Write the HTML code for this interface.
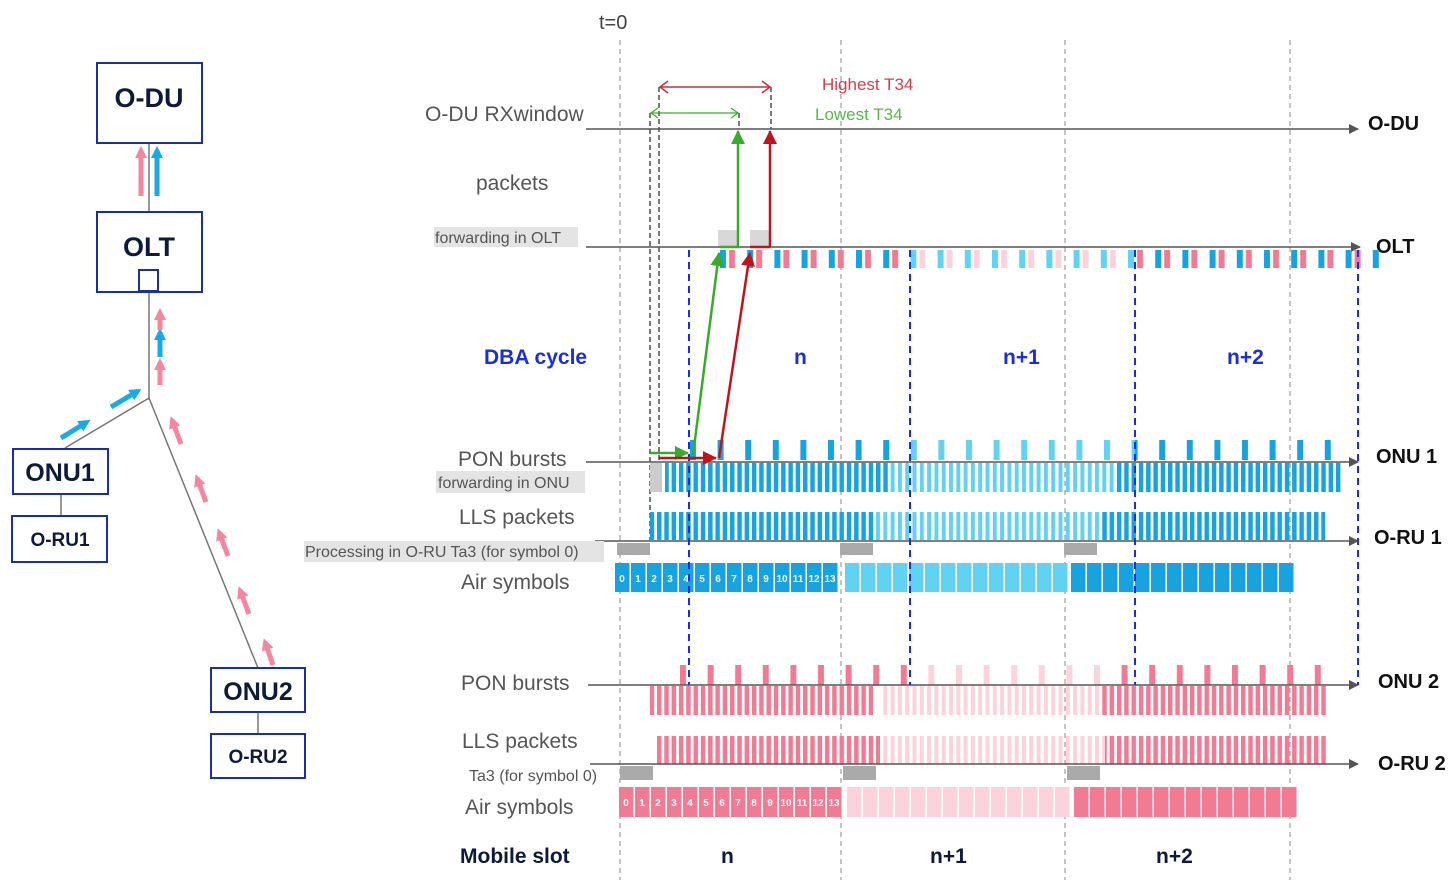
<!DOCTYPE html>
<html><head><meta charset="utf-8"><style>
body{margin:0;background:#fff}
svg{display:block}
text{font-family:"Liberation Sans",sans-serif}
.lbl{font-size:21px;fill:#555}
.sm{font-size:16px;fill:#555}
.ax{font-size:20px;font-weight:bold;fill:#111}
.bx{font-weight:bold;fill:#0d1a3a}
</style></head><body>
<svg width="1456" height="887" viewBox="0 0 1456 887" xmlns="http://www.w3.org/2000/svg">
<defs>
<pattern id="sD" x="0" y="0" width="7.3" height="10" patternUnits="userSpaceOnUse"><rect width="4.5" height="10" fill="#17a2e0"/></pattern>
<pattern id="sL" x="0" y="0" width="7.3" height="10" patternUnits="userSpaceOnUse"><rect width="4" height="10" fill="#62d2f3"/></pattern>
<pattern id="pD" x="0" y="0" width="7.3" height="10" patternUnits="userSpaceOnUse"><rect width="4.5" height="10" fill="#f07b95"/></pattern>
<pattern id="pL" x="0" y="0" width="7.3" height="10" patternUnits="userSpaceOnUse"><rect width="4" height="10" fill="#fcd3dc"/></pattern>
<pattern id="tB" x="690" y="0" width="27.6" height="10" patternUnits="userSpaceOnUse"><rect width="6" height="10" fill="#17a2e0"/></pattern>
<pattern id="tBL" x="690" y="0" width="27.6" height="10" patternUnits="userSpaceOnUse"><rect width="6" height="10" fill="#62d2f3"/></pattern>
<pattern id="tP" x="680" y="0" width="27.6" height="10" patternUnits="userSpaceOnUse"><rect width="6" height="10" fill="#f07b95"/></pattern>
<pattern id="tPL" x="680" y="0" width="27.6" height="10" patternUnits="userSpaceOnUse"><rect width="6" height="10" fill="#fcd3dc"/></pattern>
<pattern id="oD" x="720" y="0" width="27.2" height="10" patternUnits="userSpaceOnUse"><rect width="6" height="10" fill="#17a2e0"/><rect x="9" width="6" height="10" fill="#f07b95"/></pattern>
<pattern id="oL" x="720" y="0" width="27.2" height="10" patternUnits="userSpaceOnUse"><rect width="6" height="10" fill="#62d2f3"/><rect x="9" width="6" height="10" fill="#fcd3dc"/></pattern>
<pattern id="yB" x="615" y="0" width="16" height="10" patternUnits="userSpaceOnUse"><rect width="14.5" height="10" fill="#17a2e0"/></pattern>
<pattern id="yBL" x="845" y="0" width="16" height="10" patternUnits="userSpaceOnUse"><rect width="14.5" height="10" fill="#62d2f3"/></pattern>
<pattern id="yB2" x="1071" y="0" width="16" height="10" patternUnits="userSpaceOnUse"><rect width="14.5" height="10" fill="#17a2e0"/></pattern>
<pattern id="yP" x="619" y="0" width="16" height="10" patternUnits="userSpaceOnUse"><rect width="14.5" height="10" fill="#f07b95"/></pattern>
<pattern id="yPL" x="847" y="0" width="16" height="10" patternUnits="userSpaceOnUse"><rect width="14.5" height="10" fill="#fcd3dc"/></pattern>
<pattern id="yP2" x="1074" y="0" width="16" height="10" patternUnits="userSpaceOnUse"><rect width="14.5" height="10" fill="#f07b95"/></pattern>
<marker id="ah" markerWidth="10" markerHeight="10" refX="9" refY="5" orient="auto" markerUnits="userSpaceOnUse"><path d="M0,0 L10,5 L0,10 Z" fill="#555"/></marker>
<marker id="ag" markerWidth="14" markerHeight="14" refX="13" refY="7" orient="auto" markerUnits="userSpaceOnUse"><path d="M0,0 L14,7 L0,14 Z" fill="#3aaa2a"/></marker>
<marker id="ar" markerWidth="14" markerHeight="14" refX="13" refY="7" orient="auto" markerUnits="userSpaceOnUse"><path d="M0,0 L14,7 L0,14 Z" fill="#c0141c"/></marker>
<marker id="ab" markerWidth="12" markerHeight="12" refX="8" refY="6" orient="auto" markerUnits="userSpaceOnUse"><path d="M0,0 L12,6 L0,12 Z" fill="#1aaae6"/></marker>
<marker id="ap" markerWidth="12" markerHeight="12" refX="8" refY="6" orient="auto" markerUnits="userSpaceOnUse"><path d="M0,0 L12,6 L0,12 Z" fill="#f4869e"/></marker>
</defs>

<!-- LEFT TOPOLOGY -->
<line x1="149" y1="143" x2="149" y2="211" stroke="#777" stroke-width="1.5"/>
<line x1="149" y1="292" x2="149" y2="400" stroke="#777" stroke-width="1.5"/>
<line x1="149" y1="398" x2="65" y2="448" stroke="#777" stroke-width="1.5"/>
<line x1="149" y1="398" x2="258" y2="668" stroke="#777" stroke-width="1.5"/>
<line x1="61" y1="494" x2="61" y2="516" stroke="#777" stroke-width="1.5"/>
<line x1="258" y1="712" x2="258" y2="734" stroke="#777" stroke-width="1.5"/>
<rect x="97" y="63" width="105" height="80" fill="#fff" stroke="#1a2fa0" stroke-width="2"/>
<text x="149" y="107" class="bx" font-size="27" text-anchor="middle">O-DU</text>
<rect x="97" y="212" width="105" height="80" fill="#fff" stroke="#1a2fa0" stroke-width="2"/>
<text x="149" y="256" class="bx" font-size="27" text-anchor="middle">OLT</text>
<rect x="139" y="270" width="19" height="21" fill="#fff" stroke="#1a2fa0" stroke-width="2"/>
<rect x="13" y="449" width="95" height="45" fill="#fff" stroke="#1a2fa0" stroke-width="2"/>
<text x="60" y="481" class="bx" font-size="25" text-anchor="middle">ONU1</text>
<rect x="12" y="516" width="95" height="46" fill="#fff" stroke="#1a2fa0" stroke-width="2"/>
<text x="60" y="546" class="bx" font-size="19" text-anchor="middle">O-RU1</text>
<rect x="211" y="668" width="94" height="44" fill="#fff" stroke="#1a2fa0" stroke-width="2"/>
<text x="258" y="700" class="bx" font-size="25" text-anchor="middle">ONU2</text>
<rect x="211" y="734" width="94" height="44" fill="#fff" stroke="#1a2fa0" stroke-width="2"/>
<text x="258" y="763" class="bx" font-size="19" text-anchor="middle">O-RU2</text>
<!-- arrows between OLT and O-DU -->
<line x1="141" y1="196" x2="141" y2="150" stroke="#f4869e" stroke-width="5" marker-end="url(#ap)"/>
<line x1="157" y1="196" x2="157" y2="150" stroke="#1aaae6" stroke-width="5" marker-end="url(#ab)"/>
<!-- arrows at trunk -->
<line x1="160" y1="385" x2="160" y2="362" stroke="#f4869e" stroke-width="5" marker-end="url(#ap)"/>
<line x1="160" y1="357" x2="160" y2="332" stroke="#1aaae6" stroke-width="5" marker-end="url(#ab)"/>
<line x1="160" y1="330" x2="160" y2="312" stroke="#f4869e" stroke-width="5" marker-end="url(#ap)"/>
<!-- ONU1 arrows -->
<line x1="61" y1="438" x2="87" y2="422" stroke="#1aaae6" stroke-width="5" marker-end="url(#ab)"/>
<line x1="111" y1="407" x2="138" y2="391" stroke="#1aaae6" stroke-width="5" marker-end="url(#ab)"/>
<!-- ONU2 arrows -->
<line x1="273" y1="665" x2="265" y2="642" stroke="#f4869e" stroke-width="5" marker-end="url(#ap)"/>
<line x1="249" y1="614" x2="240" y2="590" stroke="#f4869e" stroke-width="5" marker-end="url(#ap)"/>
<line x1="228" y1="556" x2="219" y2="532" stroke="#f4869e" stroke-width="5" marker-end="url(#ap)"/>
<line x1="206" y1="502" x2="197" y2="478" stroke="#f4869e" stroke-width="5" marker-end="url(#ap)"/>
<line x1="181" y1="444" x2="172" y2="420" stroke="#f4869e" stroke-width="5" marker-end="url(#ap)"/>

<!-- grid verticals -->
<g stroke="#888" stroke-width="1" stroke-dasharray="5,4">
<line x1="620" y1="40" x2="620" y2="880"/>
<line x1="841" y1="40" x2="841" y2="880"/>
<line x1="1065" y1="40" x2="1065" y2="880"/>
<line x1="1290" y1="40" x2="1290" y2="880"/>
</g>
<g stroke="#333" stroke-width="1.3" stroke-dasharray="5,3">
<line x1="650" y1="113" x2="650" y2="540"/>
<line x1="659" y1="87" x2="659" y2="470"/>
<line x1="739" y1="113" x2="739" y2="129"/>
<line x1="771" y1="87" x2="771" y2="129"/>
</g>
<text x="599" y="29" font-size="20" fill="#444">t=0</text>

<!-- T34 arrows -->
<line x1="660" y1="87" x2="770" y2="87" stroke="#c8323a" stroke-width="1.5"/>
<path d="M668,81 L660,87 L668,93 M762,81 L770,87 L762,93" fill="none" stroke="#c8323a" stroke-width="1.5"/>
<text x="822" y="90" font-size="17" fill="#d0404a">Highest T34</text>
<line x1="651" y1="113" x2="738" y2="113" stroke="#3aaa2a" stroke-width="1.2"/>
<path d="M658,108 L651,113 L658,118 M731,108 L738,113 L731,118" fill="none" stroke="#3aaa2a" stroke-width="1.2"/>
<text x="815" y="120" font-size="17" fill="#5ab84a">Lowest T34</text>

<!-- O-DU axis -->
<text x="425" y="121" class="lbl">O-DU RXwindow</text>
<line x1="586" y1="129" x2="1358" y2="129" stroke="#555" stroke-width="1.5" marker-end="url(#ah)"/>
<text x="1368" y="130" class="ax">O-DU</text>
<text x="476" y="190" class="lbl">packets</text>

<!-- OLT -->
<rect x="434" y="227" width="144" height="20" fill="#e4e4e4"/>
<text x="435" y="243" class="sm">forwarding in OLT</text>
<rect x="718" y="230" width="20" height="17" fill="#d8d8d8"/>
<rect x="750" y="230" width="20" height="17" fill="#d8d8d8"/>
<line x1="586" y1="247" x2="1360" y2="247" stroke="#555" stroke-width="1.5" marker-end="url(#ah)"/>
<text x="1376" y="253" class="ax">OLT</text>
<rect x="720" y="250" width="190" height="18" fill="url(#oD)"/>
<rect x="910" y="250" width="225" height="18" fill="url(#oL)"/>
<rect x="1135" y="250" width="245" height="18" fill="url(#oD)"/>

<!-- DBA cycle -->
<g font-size="21" font-weight="bold" fill="#1a2fd8">
<text x="484" y="364">DBA cycle</text>
<text x="794" y="364">n</text>
<text x="1003" y="364">n+1</text>
<text x="1227" y="364">n+2</text>
</g>

<!-- ONU1 -->
<text x="458" y="466" class="lbl">PON bursts</text>
<rect x="436" y="471" width="149" height="22" fill="#e4e4e4"/>
<text x="438" y="488" class="sm">forwarding in ONU</text>
<rect x="690" y="440" width="220" height="20" fill="url(#tB)"/>
<rect x="910" y="440" width="225" height="20" fill="url(#tBL)"/>
<rect x="1135" y="440" width="205" height="20" fill="url(#tB)"/>
<rect x="650" y="463" width="12" height="29" fill="#ccc"/>
<rect x="665" y="463" width="223" height="29" fill="url(#sD)"/>
<rect x="888" y="463" width="228" height="29" fill="url(#sL)"/>
<rect x="1116" y="463" width="225" height="29" fill="url(#sD)"/>
<line x1="586" y1="462" x2="1358" y2="462" stroke="#555" stroke-width="1.5" marker-end="url(#ah)"/>
<text x="1376" y="463" class="ax">ONU 1</text>

<text x="459" y="524" class="lbl">LLS packets</text>
<rect x="650" y="512" width="223" height="28" fill="url(#sD)"/>
<rect x="873" y="512" width="227" height="28" fill="url(#sL)"/>
<rect x="1100" y="512" width="225" height="28" fill="url(#sD)"/>
<line x1="595" y1="541" x2="1358" y2="541" stroke="#555" stroke-width="1.5" marker-end="url(#ah)"/>
<text x="1374" y="544" class="ax">O-RU 1</text>
<rect x="304" y="541" width="300" height="21" fill="#e4e4e4"/>
<text x="305" y="557" class="sm">Processing in O-RU Ta3 (for symbol 0)</text>
<rect x="617" y="543" width="33" height="12" fill="#aaa"/>
<rect x="840" y="543" width="33" height="12" fill="#aaa"/>
<rect x="1064" y="543" width="33" height="12" fill="#aaa"/>
<text x="461" y="589" class="lbl">Air symbols</text>
<rect x="615" y="563" width="224" height="29" fill="url(#yB)"/>
<rect x="845" y="563" width="224" height="29" fill="url(#yBL)"/>
<rect x="1071" y="563" width="223" height="29" fill="url(#yB2)"/>
<g font-size="10" font-weight="bold" fill="#fff" text-anchor="middle">
<text x="622" y="582">0</text><text x="638" y="582">1</text><text x="654" y="582">2</text><text x="670" y="582">3</text><text x="686" y="582">4</text><text x="702" y="582">5</text><text x="718" y="582">6</text><text x="734" y="582">7</text><text x="750" y="582">8</text><text x="766" y="582">9</text><text x="782" y="582">10</text><text x="798" y="582">11</text><text x="814" y="582">12</text><text x="830" y="582">13</text>
</g>

<!-- ONU2 -->
<text x="461" y="690" class="lbl">PON bursts</text>
<rect x="680" y="665" width="230" height="20" fill="url(#tP)"/>
<rect x="910" y="665" width="225" height="20" fill="url(#tPL)"/>
<rect x="1120" y="665" width="210" height="20" fill="url(#tP)"/>
<rect x="650" y="686" width="223" height="29" fill="url(#pD)"/>
<rect x="882" y="686" width="218" height="29" fill="url(#pL)"/>
<rect x="1100" y="686" width="226" height="29" fill="url(#pD)"/>
<line x1="588" y1="685" x2="1358" y2="685" stroke="#555" stroke-width="1.5" marker-end="url(#ah)"/>
<text x="1378" y="688" class="ax">ONU 2</text>
<text x="462" y="748" class="lbl">LLS packets</text>
<rect x="655" y="736" width="225" height="28" fill="url(#pD)"/>
<rect x="880" y="736" width="225" height="28" fill="url(#pL)"/>
<rect x="1105" y="736" width="223" height="28" fill="url(#pD)"/>
<line x1="590" y1="764" x2="1358" y2="764" stroke="#555" stroke-width="1.5" marker-end="url(#ah)"/>
<text x="1378" y="770" class="ax">O-RU 2</text>
<text x="469" y="781" font-size="16" fill="#555">Ta3 (for symbol 0)</text>
<rect x="620" y="766" width="33" height="14" fill="#aaa"/>
<rect x="843" y="766" width="33" height="14" fill="#aaa"/>
<rect x="1067" y="766" width="33" height="14" fill="#aaa"/>
<text x="465" y="814" class="lbl">Air symbols</text>
<rect x="619" y="787" width="224" height="30" fill="url(#yP)"/>
<rect x="847" y="787" width="224" height="30" fill="url(#yPL)"/>
<rect x="1074" y="787" width="223" height="30" fill="url(#yP2)"/>
<g font-size="10" font-weight="bold" fill="#fff" text-anchor="middle">
<text x="626" y="806">0</text><text x="642" y="806">1</text><text x="658" y="806">2</text><text x="674" y="806">3</text><text x="690" y="806">4</text><text x="706" y="806">5</text><text x="722" y="806">6</text><text x="738" y="806">7</text><text x="754" y="806">8</text><text x="770" y="806">9</text><text x="786" y="806">10</text><text x="802" y="806">11</text><text x="818" y="806">12</text><text x="834" y="806">13</text>
</g>

<!-- blue DBA dashed -->
<g stroke="#1a2fd8" stroke-width="2" stroke-dasharray="7,5">
<line x1="689" y1="250" x2="689" y2="685"/>
<line x1="910" y1="250" x2="910" y2="685"/>
<line x1="1135" y1="250" x2="1135" y2="685"/>
<line x1="1358" y1="250" x2="1358" y2="685"/>
</g>

<!-- Mobile slot -->
<g font-size="21" font-weight="bold" fill="#0d1a3a">
<text x="460" y="863">Mobile slot</text>
<text x="721" y="863">n</text>
<text x="930" y="863">n+1</text>
<text x="1156" y="863">n+2</text>
</g>

<!-- green path -->
<polyline points="650,453 688,453" fill="none" stroke="#3aaa2a" stroke-width="2.5" marker-end="url(#ag)"/>
<polyline points="693,455 719,253" fill="none" stroke="#3aaa2a" stroke-width="2.5" marker-end="url(#ag)"/>
<polyline points="720,247 738,247" fill="none" stroke="#3aaa2a" stroke-width="2.5"/>
<polyline points="738,247 738,131" fill="none" stroke="#3aaa2a" stroke-width="2.5" marker-end="url(#ag)"/>
<!-- red path -->
<polyline points="659,458 716,458" fill="none" stroke="#c0141c" stroke-width="2.5" marker-end="url(#ar)"/>
<polyline points="719,458 750,253" fill="none" stroke="#c0141c" stroke-width="2.5" marker-end="url(#ar)"/>
<polyline points="750,247 770,247" fill="none" stroke="#c0141c" stroke-width="2.5"/>
<polyline points="770,247 770,131" fill="none" stroke="#c0141c" stroke-width="2.5" marker-end="url(#ar)"/>
</svg>
</body></html>
